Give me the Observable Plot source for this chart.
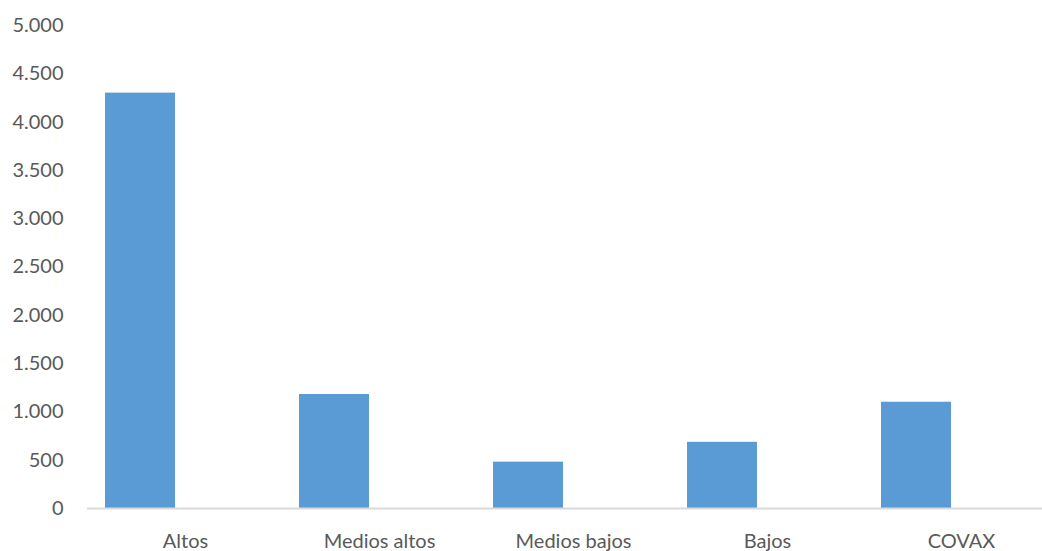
<!DOCTYPE html>
<html>
<head>
<meta charset="utf-8">
<script src="https://cdn.jsdelivr.net/npm/d3@7"></script>
<script src="https://cdn.jsdelivr.net/npm/@observablehq/plot@0.6"></script>
<style>
  html, body { margin: 0; padding: 0; background: #fff; overflow: hidden; }
  #chart svg { display: block; }
</style>
</head>
<body>
<div id="chart"></div>
<script>
const categories = ["Altos", "Medios altos", "Medios bajos", "Bajos", "COVAX"];
const values = [4300, 1180, 480, 685, 1100];
const yTicks = [0, 500, 1000, 1500, 2000, 2500, 3000, 3500, 4000, 4500, 5000];

const data = categories.map((c, i) => ({category: c, value: values[i]}));
const fmt = d => d3.format(",")(d).replace(/,/g, ".");

const chart = Plot.plot({
  width: 1042,
  height: 551,
  marginTop: 25,
  marginBottom: 43,
  marginLeft: 87,
  marginRight: 0,
  style: {fontFamily: "Lato, sans-serif", fontSize: "20px", color: "#595959", background: "#fff"},
  x: {domain: categories, range: [87, 1058], paddingInner: 0, paddingOuter: 0, label: null},
  y: {domain: [0, 5000], label: null},
  marks: [
    Plot.barY(data, {x: "category", y: "value", fill: "#5B9BD5", insetLeft: 17, insetRight: 107}),
    Plot.ruleY([0], {stroke: "#d9d9d9", strokeWidth: 2}),
    Plot.axisY({ticks: yTicks, tickFormat: fmt, tickSize: 0, tickPadding: 24, fontSize: 20, fill: "#595959"}),
    Plot.axisX({tickSize: 0, tickPadding: 25, fontSize: 20, fill: "#595959"})
  ]
});
document.getElementById("chart").appendChild(chart);
</script>
</body>
</html>
